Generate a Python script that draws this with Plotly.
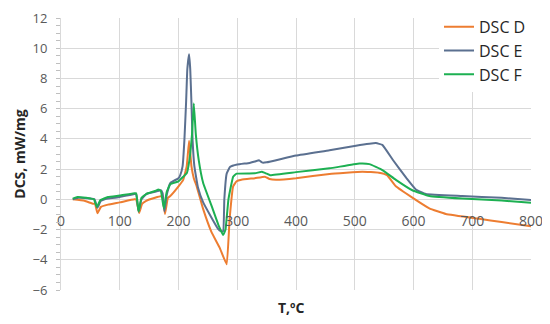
import plotly.graph_objects as go

# DSC D (orange)
t_d = [20, 40, 55, 58, 62, 68, 80, 100, 125, 128, 133, 138, 145, 160, 170, 173, 177, 182, 186, 200,
       208, 214, 218, 222, 226, 231, 242, 256, 270, 282, 287, 293, 299, 307, 330, 347, 355, 366,
       400, 457, 513, 541, 555, 570, 598, 627, 655, 712, 750, 800]
dsc_d = [0, -0.1, -0.3, -0.3, -0.92, -0.5, -0.35, -0.2, 0.0, 0.0, -0.9, -0.3, -0.1, 0.1, 0.2, 0.1, -0.97,
         0.1, 0.22, 0.86, 1.29, 2.2, 3.87, 2.2, 1.4, 0.86, -0.65, -2.15, -3.2, -4.3, -1.3, 0.86, 1.2,
         1.3, 1.4, 1.5, 1.35, 1.3, 1.4, 1.68, 1.83, 1.76, 1.6, 0.86, 0.11, -0.6, -0.97, -1.29, -1.5, -1.78]

# DSC E (blue-grey)
t_e = [20, 30, 50, 57, 62, 68, 80, 100, 125, 128, 132, 137, 145, 160, 170, 173, 176, 180, 186, 200,
       203, 207, 210, 213, 215, 218, 220, 222, 224, 227, 233, 242, 256, 267, 272, 276, 278, 282, 288,
       300, 321, 330, 337, 343, 350, 400, 457, 502, 536, 547, 565, 588, 604, 621, 683, 750, 800]
dsc_e = [0, 0.1, 0.05, 0, -0.55, -0.1, 0.05, 0.15, 0.35, 0.35, -0.8, 0.0, 0.35, 0.5, 0.6, 0.4, -0.8, 0.3,
         1.08, 1.4, 1.6, 2.2, 3.9, 6.5, 8.6, 9.6, 8.6, 6.4, 3.9, 2.2, 0.8, -0.2, -1.2, -1.93, -2.1, -2.1,
         0.0, 1.7, 2.15, 2.3, 2.41, 2.5, 2.58, 2.43, 2.45, 2.9, 3.25, 3.55, 3.72, 3.6, 2.6, 1.4, 0.65,
         0.35, 0.22, 0.1, -0.05]

# DSC F (green)
t_f = [20, 28, 50, 56, 61, 67, 80, 100, 125, 128, 132, 137, 145, 160, 166, 170, 175, 180, 186, 200,
       208, 214, 218.5, 223, 226, 229.5, 234.5, 242, 256, 268, 276, 280, 285, 293, 299, 330, 342, 350,
       356, 400, 457, 508, 525, 547, 570, 598, 627, 683, 750, 800]
dsc_f = [0.05, 0.15, 0.05, 0.0, -0.5, -0.05, 0.15, 0.25, 0.4, 0.4, -0.8, 0.1, 0.35, 0.55, 0.65, 0.55,
         -0.6, 0.5, 1.0, 1.19, 1.5, 1.72, 2.58, 4.3, 6.35, 4.3, 2.58, 1.08, -0.4, -1.7, -2.36, -2.0, 0.0,
         1.5, 1.7, 1.72, 1.83, 1.7, 1.6, 1.8, 2.05, 2.37, 2.33, 1.94, 1.29, 0.6, 0.22, 0.05, -0.08, -0.22]

names = ["DSC D", "DSC E", "DSC F"]
colors = ["#ED7D31", "#5B7090", "#1DB052"]

x_ticks = [0, 100, 200, 300, 400, 500, 600, 700, 800]
y_ticks = [-6, -4, -2, 0, 2, 4, 6, 8, 10, 12]

fig = go.Figure()
for t, v, n, c in zip([t_d, t_e, t_f], [dsc_d, dsc_e, dsc_f], names, colors):
    fig.add_trace(go.Scatter(x=t, y=v, mode="lines", name=n,
                             line=dict(color=c, width=2, shape="spline", smoothing=0.3)))

font = "Open Sans, Liberation Sans, sans-serif"
fig.update_layout(
    width=542, height=316,
    margin=dict(l=53, r=19, t=2, b=34),
    paper_bgcolor="white", plot_bgcolor="white",
    font=dict(family=font, size=13, color="#595959"),
    showlegend=True,
    legend=dict(x=1.0, xanchor="right", y=1.03, yanchor="top", bgcolor="white",
                font=dict(size=16, color="#262626"), itemwidth=30, tracegroupgap=0),
    xaxis=dict(range=[0, 800], tickvals=x_ticks, showgrid=True, gridcolor="#d9d9d9", gridwidth=1,
               zeroline=False, showline=False, anchor="free", position=1/3, automargin=False,
               ticks="", ticklabelstandoff=12, ticklabeloverflow="allow",
               tickfont=dict(size=14, color="#595959")),
    yaxis=dict(range=[-6, 12], tickvals=y_ticks, showgrid=True, gridcolor="#d9d9d9", gridwidth=1,
               zeroline=False, showline=True, linecolor="#d9d9d9", linewidth=1,
               ticks="outside", ticklen=4, tickcolor="#bfbfbf",
               minor=dict(dtick=0.5, ticks="outside", ticklen=4, tickcolor="#bfbfbf", showgrid=False),
               ticklabelstandoff=6, ticklabeloverflow="allow", tickfont=dict(size=13, color="#595959"),
               title=dict(text="DCS, mW/mg", font=dict(size=14, color="#262626", family=font, weight="bold"),
                          standoff=3),
               automargin=False),
    annotations=[dict(text="<b>T,ºC</b>", x=0.49, xref="paper", y=-(308 - 290) / 280, yref="paper",
                      yanchor="middle", showarrow=False, font=dict(size=14, color="#262626"))],
)

fig.write_html("out.html")
